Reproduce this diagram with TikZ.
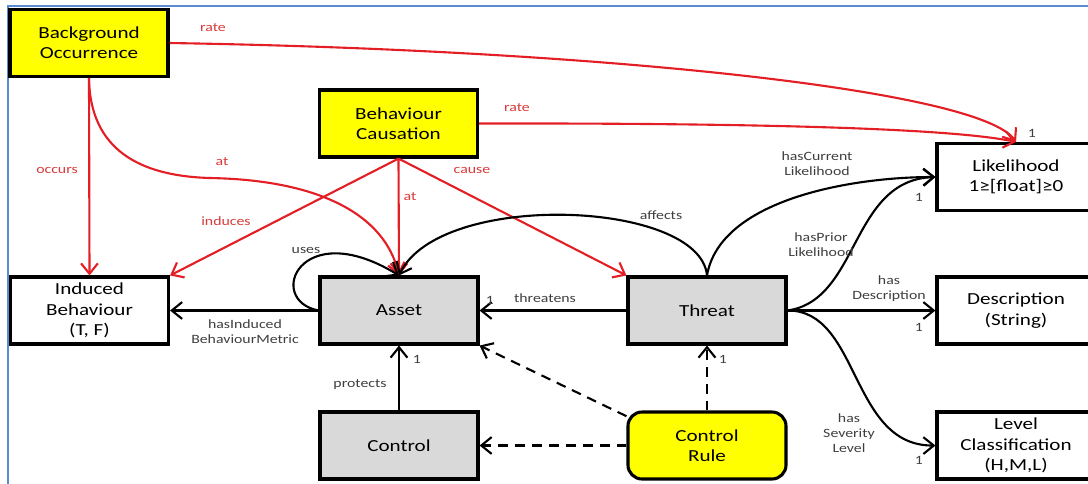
\documentclass[tikz,border=0pt]{standalone}
\usepackage{fontspec}
\setmainfont{Carlito}[FakeStretch=1.25]
\usetikzlibrary{arrows.meta, positioning}
\definecolor{occyellow}{HTML}{FFFF00}
\definecolor{assetgray}{HTML}{D9D9D9}
\definecolor{rulered}{HTML}{E31E24}
\definecolor{labelred}{HTML}{D83A3A}
\definecolor{labelgray}{HTML}{3F3F3F}
\definecolor{frameblue}{HTML}{5B8BD0}

\begin{document}
\begin{tikzpicture}[
    x=0.025cm, y=-0.025cm,
    box/.style={draw, line width=2.2pt, minimum width=3.95cm, minimum height=1.675cm, align=center, font=\fontsize{12}{14.4}\selectfont},
    cause/.style={box, fill=occyellow},
    core/.style={box, fill=assetgray},
    rel/.style={-{Straight Barb[length=2.6mm, width=4.2mm]}, line width=1.5pt},
    redrel/.style={rel, rulered},
    dep/.style={rel, dash pattern=on 7pt off 5pt},
    lbl/.style={font=\fontsize{9}{10.8}\selectfont, text=labelgray, align=center, inner sep=1pt},
    redlbl/.style={lbl, text=labelred},
]
    \clip (0,0) rectangle (1088,483);
    % frame
    \draw[frameblue, line width=1.5pt] (8,490) -- (8,6) -- (1095,6);

    % Event nodes
    \node[cause] (bgocc) at (89,43) {Background\\Occurrence};
    \node[cause] (behcaus) at (398.5,123.5) {Behaviour\\Causation};

    % Core nodes
    \node[box] (indbeh) at (89.5,310.5) {Induced\\Behaviour\\(T, F)};
    \node[core] (asset) at (399,310.5) {Asset};
    \node[core] (threat) at (707,310.5) {Threat};
    \node[core] (control) at (399,445.5) {Control};
    \node[cause, rounded corners=10pt] (crule) at (707,445.5) {Control\\Rule};

    % Value nodes
    \node[box] (lik) at (1016,177) {Likelihood\\1≥[float]≥0};
    \node[box] (desc) at (1016,310.5) {Description\\(String)};
    \node[box] (level) at (1016,445.5) {Level\\Classification\\(H,M,L)};

    % Red relations
    \draw[redrel] (bgocc.south) -- (indbeh.north);
    \draw[redrel] (bgocc.south) .. controls (90,150) and (140,176) .. (210,178) .. controls (320,180) and (385,215) .. (asset.north);
    \draw[redrel] (bgocc.east) .. controls (600,50) and (980,90) .. (lik.north);
    \draw[redrel] (behcaus.east) .. controls (750,123) and (950,128) .. (lik.north);
    \draw[redrel] (behcaus.south) -- (indbeh.north east);
    \draw[redrel] (behcaus.south) -- (asset.north);
    \draw[redrel] (behcaus.south) -- (threat.north west);

    % Black relations
    \draw[rel] (asset.west) -- (indbeh.east);
    \draw[rel] (threat.west) -- (asset.east);
    \draw[rel] (asset.west) .. controls (265,300) and (300,215) .. (asset.north);
    \draw[rel] (threat.north) .. controls (700,200) and (440,190) .. (asset.north);
    \draw[rel] (threat.north) .. controls (720,200) and (850,177) .. (lik.west);
    \draw[rel] (threat.east) .. controls (860,300) and (850,180) .. (lik.west);
    \draw[rel] (threat.east) -- (desc.west);
    \draw[rel] (threat.east) .. controls (860,310) and (850,446) .. (level.west);
    \draw[rel] (control.north) -- (asset.south);

    % Dashed relations
    \draw[dep] (crule.west) -- (control.east);
    \draw[dep] (crule.160) -- (asset.south east);
    \draw[dep] (crule.north) -- (threat.south);

    % Labels
    \node[redlbl] (lrateBO) at (213,28) {rate};
    \node[redlbl] (lrateBC) at (517,108) {rate};
    \node[redlbl] (loccurs) at (57,170) {occurs};
    \node[redlbl] (latBO) at (222,162) {at};
    \node[redlbl] (linduces) at (226,221) {induces};
    \node[redlbl] (latBC) at (410,197) {at};
    \node[redlbl] (lcause) at (472,170) {cause};
    \node[lbl] (luses) at (306,250) {uses};
    \node[lbl] (laffects) at (661,215) {affects};
    \node[lbl] (lcurrent) at (817,164) {hasCurrent\\Likelihood};
    \node[lbl] (lprior) at (821,245) {hasPrior\\Likelihood};
    \node[lbl] (lthreatens) at (545,298) {threatens};
    \node[lbl] (linduced) at (245,332) {hasInduced\\BehaviourMetric};
    \node[lbl] (lprotects) at (360,385) {protects};
    \node[lbl] (ldesc) at (889,289) {has\\Description};
    \node[lbl] (lseverity) at (849,433) {has\\Severity\\Level};

    % Cardinalities
    \foreach \x/\y [count=\i] in {1032/133, 919/197, 490/300, 417/359, 723/359, 919/327, 919/460} {
        \node[lbl] (card\i) at (\x,\y) {1};
    }
\end{tikzpicture}
\end{document}
